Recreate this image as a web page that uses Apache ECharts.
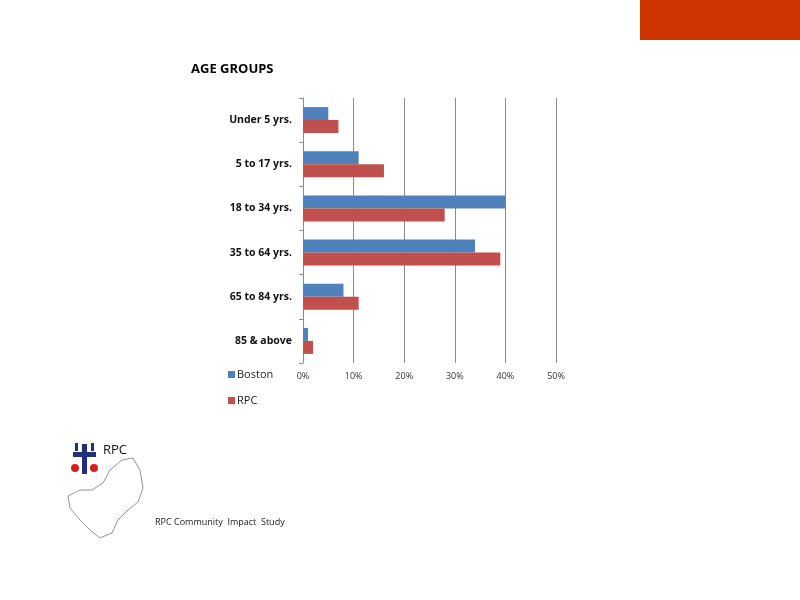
<!DOCTYPE html>
<html>
<head>
<meta charset="utf-8">
<script src="https://cdn.jsdelivr.net/npm/echarts@6/dist/echarts.min.js"></script>
<style>
  html, body { margin: 0; padding: 0; background: #fff; }
  #main { width: 800px; height: 600px; }
</style>
</head>
<body>
<div id="main"></div>
<script>
// age groups, share of population in %
var categories = ["Under 5 yrs.", "5 to 17 yrs.", "18 to 34 yrs.", "35 to 64 yrs.", "65 to 84 yrs.", "85 & above"];
var boston = [5, 11, 40, 34, 8, 1];
var rpc = [7, 16, 28, 39, 11, 2];
var seriesNames = ["Boston", "RPC"];

var chart = echarts.init(document.getElementById("main"));

// rough county outline for the logo (decoration only)
var mapOutline = [[92, 490], [103, 483], [110, 470], [122, 460], [133, 458], [140, 470], [143, 488], [138, 502],
  [128, 510], [118, 520], [112, 533], [100, 538], [90, 530], [80, 520], [70, 508], [68, 496], [80, 490]];

var option = {
  animation: false,
  textStyle: {fontFamily: "Open Sans"},
  title: {
    text: "AGE GROUPS",
    left: 191, top: 63, padding: 0,
    textStyle: {fontSize: 13, fontWeight: "bold", color: "#000", fontFamily: "Open Sans"}
  },
  legend: {
    data: seriesNames,
    orient: "vertical",
    left: 228, top: 369, padding: 0,
    icon: "rect",
    itemWidth: 7, itemHeight: 7, itemGap: 15,
    textStyle: {fontSize: 11, color: "#222", padding: [0, 0, 0, -3]}
  },
  grid: {left: 303, right: 244, top: 98, bottom: 237, containLabel: false},
  xAxis: {
    type: "value",
    min: 0, max: 50, interval: 10,
    axisLine: {show: false},
    axisTick: {show: false},
    axisLabel: {formatter: "{value}%", fontSize: 9, color: "#333", margin: 9},
    splitLine: {lineStyle: {color: "#8c8c8c", width: 1}}
  },
  yAxis: {
    type: "category",
    data: categories,
    inverse: true,
    axisLine: {lineStyle: {color: "#8c8c8c"}},
    axisTick: {show: true, length: 4, lineStyle: {color: "#8c8c8c"}},
    axisLabel: {fontSize: 10.5, fontWeight: "bold", color: "#111", margin: 11}
  },
  series: [{
    name: seriesNames[0],
    type: "bar",
    data: boston,
    barWidth: 13,
    barGap: "0%",
    itemStyle: {color: "#4f81bd"}
  }, {
    name: seriesNames[1],
    type: "bar",
    data: rpc,
    barWidth: 13,
    barGap: "0%",
    itemStyle: {color: "#c0504d"}
  }],
  graphic: [
    {type: "rect", shape: {x: 640, y: 0, width: 160, height: 40}, style: {fill: "#cd3400"}},
    // logo: cross emblem
    {type: "rect", shape: {x: 82, y: 444, width: 5, height: 30}, style: {fill: "#1f2f7a"}},
    {type: "rect", shape: {x: 73, y: 452, width: 23, height: 5}, style: {fill: "#1f2f7a"}},
    {type: "rect", shape: {x: 75, y: 443, width: 3, height: 8}, style: {fill: "#1f2f7a"}},
    {type: "rect", shape: {x: 91, y: 443, width: 3, height: 8}, style: {fill: "#1f2f7a"}},
    {type: "circle", shape: {cx: 75, cy: 468, r: 4}, style: {fill: "#d42020"}},
    {type: "circle", shape: {cx: 94, cy: 468, r: 4}, style: {fill: "#d42020"}},
    {type: "text", left: 103, top: 444, style: {text: "RPC", fontSize: 13, fill: "#111", fontFamily: "Open Sans"}},
    {type: "polygon", shape: {points: mapOutline}, style: {fill: "#fff", stroke: "#777", lineWidth: 0.8}},
    {type: "text", left: 155, top: 518, style: {text: "RPC Community  Impact  Study", fontSize: 9, fill: "#222", fontFamily: "Open Sans"}}
  ]
};
chart.setOption(option);
</script>
</body>
</html>
